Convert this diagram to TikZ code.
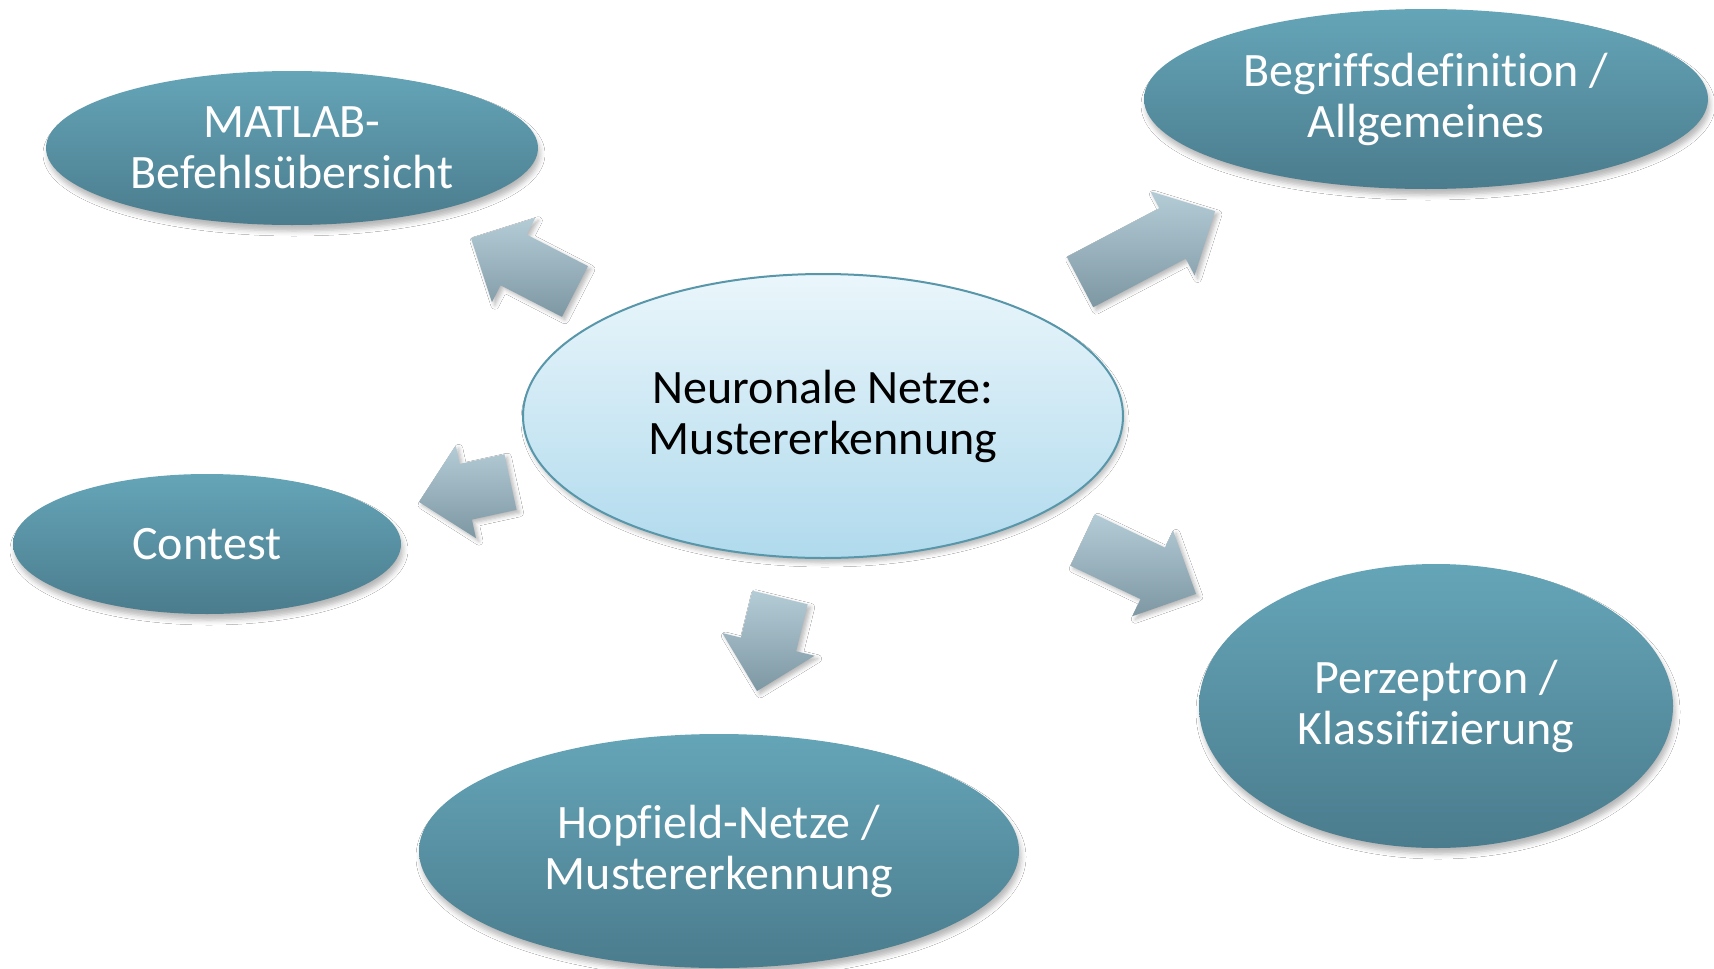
\documentclass[tikz,border=0pt]{standalone}
\usepackage{fontspec}
\setmainfont{Carlito}[Ligatures={NoCommon,NoContextual}]
\usetikzlibrary{shapes.geometric,shadows.blur}
\definecolor{outtop}{RGB}{101,165,184}
\definecolor{outbot}{RGB}{74,124,141}
\definecolor{midtop}{RGB}{234,246,251}
\definecolor{midbot}{RGB}{176,218,237}
\definecolor{midline}{RGB}{88,150,170}
\definecolor{arrtop}{RGB}{180,204,214}
\definecolor{arrbot}{RGB}{125,151,163}
\tikzset{
  outer/.style={ellipse, inner sep=0pt, top color=outtop, bottom color=outbot,
    text=white, align=center, font=\fontsize{24}{25.5}\selectfont,
    blur shadow={shadow xshift=1pt, shadow yshift=-3pt, shadow blur radius=2.5pt, shadow opacity=28}},
  center/.style={ellipse, inner sep=0pt, top color=midtop, bottom color=midbot,
    draw=midline, line width=1pt, text=black, align=center, font=\fontsize{24}{25.5}\selectfont,
    blur shadow={shadow xshift=1pt, shadow yshift=-2.5pt, shadow blur radius=2pt, shadow opacity=25}},
  blockarrow/.style={top color=arrtop, bottom color=arrbot,
    blur shadow={shadow xshift=1.5pt, shadow yshift=-1.5pt, shadow blur radius=2pt, shadow opacity=28}}
}
\newcommand\blockarr[4]{%
  \begin{scope}[shift={(#2)}, rotate=#3]
    \coordinate (#1) at (0,0);
    \shade[blockarrow] (0,-28.5) -- ({#4-48},-28.5) -- ({#4-48},-47.5) -- (#4,0)
      -- ({#4-48},47.5) -- ({#4-48},28.5) -- (0,28.5) -- cycle;
  \end{scope}}
\begin{document}
\begin{tikzpicture}[x=0.5pt, y=-0.5pt]
\useasboundingbox[fill=white] (0,0) rectangle (1714,969);
% outer ellipses
\node[outer, minimum width=246pt, minimum height=77pt] (matlab) at (292,148) {MATLAB-\\Befehlsübersicht};
\node[outer, minimum width=282pt, minimum height=90pt] (begriff) at (1426,99) {Begriffsdefinition /\\Allgemeines};
\node[outer, minimum width=194pt, minimum height=70pt] (contest) at (207,544) {Contest};
\node[outer, minimum width=237pt, minimum height=142pt] (perz) at (1436,706) {Perzeptron /\\Klassifizierung};
\node[outer, minimum width=300pt, minimum height=117pt] (hopf) at (719,851) {Hopfield-Netze /\\Mustererkennung};
% centre
\node[center, minimum width=300pt, minimum height=142pt] (nn) at (823,416) {Neuronale Netze:\\Mustererkennung};
% block arrows
\blockarr{a1}{575,291.5}{152.8}{117}
\blockarr{a2}{1080,282}{27.7}{152.5}
\blockarr{a3}{510.5,482}{192.3}{93.7}
\blockarr{a4}{780,597.5}{256.2}{96.3}
\blockarr{a5}{1082.5,540}{-25.4}{125.7}
\end{tikzpicture}
\end{document}
